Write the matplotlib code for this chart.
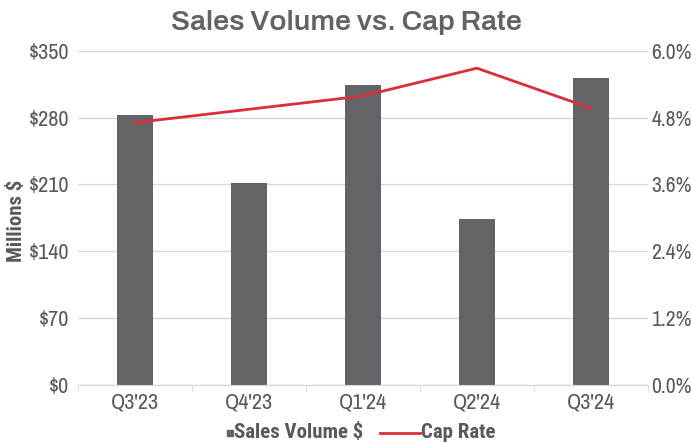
import matplotlib
matplotlib.use("Agg")
import matplotlib.pyplot as plt
from matplotlib.lines import Line2D
from matplotlib.ticker import FuncFormatter, MultipleLocator
import numpy as np

# data
quarters = ["Q3'23", "Q4'23", "Q1'24", "Q2'24", "Q3'24"]
sales_volume = [283, 211, 314, 174, 322]        # millions $
cap_rate = [4.71, 4.95, 5.19, 5.69, 4.97]       # percent

bar_color = "#646468"
line_color = "#d7303a"
text_color = "#595959"
grid_color = "#d9d9d9"

narrow = ["Archivo Narrow", "Liberation Sans", "DejaVu Sans"]
narrow_bold = ["Roboto Condensed", "Archivo Narrow", "DejaVu Sans"]
plt.rcParams["font.family"] = narrow

W, H = 692, 443
fig = plt.figure(figsize=(W / 100, H / 100), dpi=100)
ax = fig.add_axes([0.1123, 0.132, 0.8241, 0.753])
ax2 = ax.twinx()

x = np.arange(len(quarters))
ax.bar(x, sales_volume, width=0.316, color=bar_color, zorder=2)
ax2.plot(x, cap_rate, color=line_color, lw=2.0, zorder=3)

ax.set_xlim(-0.5, len(quarters) - 0.5)
ax.set_ylim(0, 350)
ax2.set_ylim(0, 6.0)
ax.yaxis.set_major_locator(MultipleLocator(70))
ax2.yaxis.set_major_locator(MultipleLocator(1.2))
ax.yaxis.set_major_formatter(FuncFormatter(lambda v, p: f"${v:.0f}"))
ax2.yaxis.set_major_formatter(FuncFormatter(lambda v, p: f"{v:.1f}%"))

ax.grid(axis="y", color=grid_color, lw=1.0, zorder=0)
ax.set_axisbelow(True)
for a in (ax, ax2):
    for s in ("top", "left", "right"):
        a.spines[s].set_visible(False)
    a.spines["bottom"].set_color(grid_color)
ax2.spines["bottom"].set_visible(False)

ax.set_xticks(x)
ax.set_xticklabels(quarters)
ax.set_xticks(np.arange(len(quarters) + 1) - 0.5, minor=True)
ax.tick_params(axis="x", which="major", length=0, pad=6,
               labelsize=16, labelcolor=text_color)
ax.tick_params(axis="x", which="minor", length=5, color=grid_color)
ax.tick_params(axis="y", length=0, pad=6, labelsize=16, labelcolor=text_color)
ax2.tick_params(axis="y", length=0, pad=2.5, labelsize=15.5, labelcolor=text_color)

ax.set_ylabel("Millions $", fontsize=15, fontweight="bold",
              color=text_color, family=narrow_bold)
ax.yaxis.set_label_coords(-0.091, 0.49)

fig.text(0.5, 0.95, "Sales Volume vs. Cap Rate", ha="center", va="center",
         fontsize=20.5, fontweight="bold", color="#636366",
         family=["Archivo", "Liberation Sans", "DejaVu Sans"])

# legend drawn by hand so the markers sit right against their labels
ly = 1 - 433 / H
leg_font = dict(fontsize=15, fontweight="bold", color=text_color,
                family=narrow_bold, va="center", ha="left")
fig.add_artist(Line2D([230 / W], [ly], marker="s", ls="none", ms=4.5,
                      color=bar_color, transform=fig.transFigure))
fig.text(234 / W, ly, "Sales Volume $", **leg_font)
fig.add_artist(Line2D([380 / W, 420 / W], [ly, ly], color=line_color, lw=2.0,
                      transform=fig.transFigure))
fig.text(421 / W, ly, "Cap Rate", **leg_font)

fig.savefig("out.png", dpi=100)
